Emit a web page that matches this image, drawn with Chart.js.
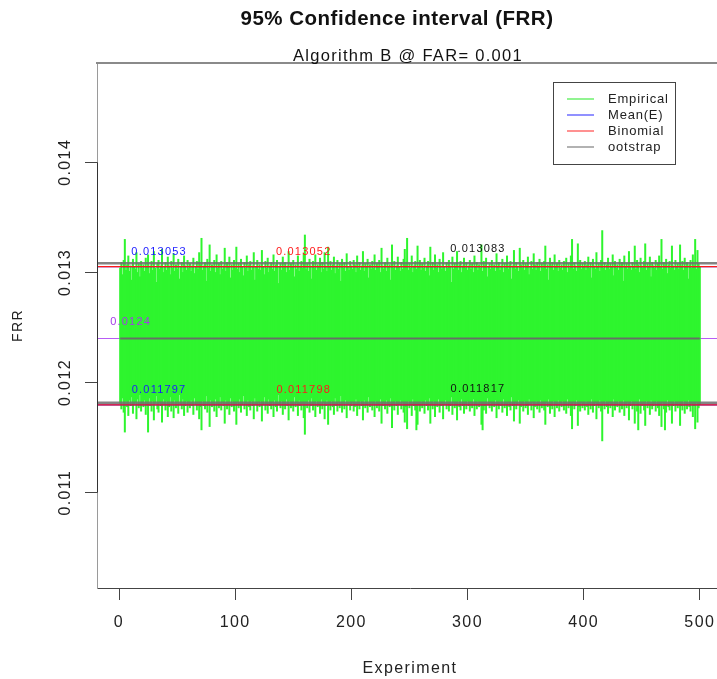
<!DOCTYPE html>
<html><head><meta charset="utf-8">
<script src="https://cdn.jsdelivr.net/npm/chart.js@4.4.1/dist/chart.umd.min.js"></script>
<style>html,body{margin:0;padding:0;background:#fff;overflow:hidden;width:717px;height:679px}canvas{display:block}</style>
</head><body>
<canvas id="c" width="740" height="679"></canvas>
<script>
// ---------------- data ----------------
const experiments = Array.from({length: 500}, (_, i) => i + 1);

const upperCI = [
.01304,.01309,.01298,.01311,.01330,.01302,.01307,.01315,.01301,.01306,.01293,.01312,.01305,.01303,.01318,.01300,.01308,.01296,.01310,.01304,
.01307,.01301,.01313,.01305,.01316,.01299,.01306,.01310,.01302,.01319,.01304,.01291,.01308,.01311,.01303,.01306,.01321,.01300,.01305,.01309,
.01302,.01314,.01306,.01298,.01310,.01304,.01317,.01301,.01307,.01303,.01312,.01294,.01305,.01309,.01300,.01315,.01306,.01302,.01311,.01304,
.01308,.01301,.01306,.01313,.01299,.01305,.01310,.01303,.01318,.01307,.01331,.01302,.01306,.01309,.01292,.01312,.01304,.01325,.01301,.01307,
.01305,.01311,.01300,.01316,.01304,.01308,.01298,.01310,.01303,.01306,.01322,.01301,.01309,.01305,.01314,.01295,.01307,.01302,.01311,.01304,
.01323,.01303,.01308,.01300,.01312,.01305,.01297,.01309,.01304,.01315,.01301,.01307,.01310,.01302,.01306,.01318,.01293,.01305,.01311,.01303,
.01307,.01302,.01320,.01305,.01298,.01310,.01304,.01313,.01300,.01306,.01309,.01303,.01316,.01301,.01307,.01311,.01290,.01305,.01308,.01302,
.01314,.01304,.01309,.01300,.01306,.01319,.01302,.01308,.01305,.01311,.01296,.01307,.01303,.01315,.01301,.01306,.01310,.01304,.01317,.01334,
.01303,.01308,.01301,.01312,.01306,.01294,.01310,.01304,.01316,.01302,.01307,.01305,.01313,.01300,.01309,.01303,.01318,.01306,.01301,.01323,
.01305,.01310,.01302,.01307,.01314,.01299,.01306,.01311,.01303,.01308,.01292,.01312,.01304,.01309,.01301,.01317,.01305,.01302,.01310,.01306,
.01303,.01311,.01307,.01300,.01315,.01304,.01309,.01302,.01306,.01319,.01301,.01308,.01305,.01312,.01295,.01307,.01303,.01310,.01304,.01316,
.01302,.01308,.01305,.01311,.01300,.01322,.01306,.01303,.01309,.01301,.01313,.01305,.01307,.01293,.01325,.01304,.01310,.01302,.01306,.01314,
.01305,.01301,.01309,.01303,.01312,.01321,.01307,.01331,.01302,.01308,.01304,.01315,.01300,.01306,.01310,.01303,.01324,.01305,.01311,.01302,
.01308,.01304,.01313,.01301,.01306,.01310,.01297,.01323,.01305,.01309,.01302,.01316,.01304,.01307,.01300,.01312,.01306,.01303,.01318,.01305,
.01301,.01309,.01304,.01311,.01306,.01291,.01314,.01303,.01308,.01305,.01319,.01302,.01307,.01310,.01300,.01306,.01313,.01304,.01309,.01302,
.01306,.01311,.01303,.01308,.01300,.01315,.01305,.01309,.01302,.01307,.01304,.01325,.01301,.01310,.01306,.01313,.01296,.01305,.01308,.01303,
.01311,.01304,.01307,.01301,.01317,.01305,.01309,.01302,.01306,.01312,.01300,.01308,.01304,.01315,.01303,.01307,.01310,.01294,.01306,.01320,
.01303,.01309,.01305,.01301,.01322,.01307,.01304,.01311,.01302,.01308,.01306,.01314,.01298,.01305,.01310,.01303,.01317,.01307,.01302,.01309,
.01305,.01312,.01301,.01308,.01304,.01310,.01324,.01303,.01307,.01293,.01313,.01306,.01309,.01302,.01316,.01305,.01308,.01301,.01311,.01304,
.01307,.01302,.01310,.01305,.01313,.01300,.01308,.01304,.01315,.01330,.01303,.01309,.01306,.01301,.01326,.01307,.01311,.01303,.01308,.01305,
.01310,.01302,.01307,.01314,.01304,.01309,.01295,.01312,.01306,.01303,.01318,.01305,.01308,.01301,.01311,.01338,.01304,.01309,.01302,.01307,
.01313,.01303,.01308,.01305,.01316,.01297,.01310,.01304,.01307,.01302,.01312,.01306,.01309,.01292,.01315,.01305,.01308,.01303,.01319,.01306,
.01302,.01309,.01305,.01324,.01303,.01311,.01307,.01300,.01313,.01306,.01304,.01310,.01326,.01302,.01308,.01305,.01314,.01296,.01309,.01306,
.01304,.01311,.01302,.01308,.01315,.01305,.01330,.01303,.01309,.01306,.01312,.01299,.01307,.01310,.01304,.01324,.01306,.01302,.01311,.01305,
.01308,.01303,.01325,.01306,.01310,.01302,.01313,.01305,.01309,.01294,.01307,.01311,.01304,.01316,.01306,.01330,.01303,.01320,.01308,.01305
];

const lowerCI = [
.01181,.01176,.01186,.01173,.01155,.01183,.01178,.01170,.01184,.01179,.01187,.01172,.01180,.01182,.01167,.01185,.01177,.01189,.01174,.01181,
.01178,.01184,.01171,.01180,.01155,.01186,.01179,.01174,.01183,.01166,.01181,.01188,.01176,.01173,.01182,.01179,.01164,.01185,.01180,.01175,
.01183,.01169,.01178,.01187,.01174,.01181,.01168,.01184,.01177,.01182,.01172,.01189,.01180,.01176,.01185,.01170,.01179,.01183,.01173,.01181,
.01177,.01184,.01179,.01171,.01186,.01180,.01175,.01182,.01167,.01178,.01157,.01183,.01179,.01176,.01188,.01173,.01181,.01160,.01184,.01178,
.01180,.01174,.01185,.01169,.01181,.01177,.01187,.01175,.01182,.01179,.01163,.01184,.01176,.01180,.01171,.01186,.01178,.01183,.01174,.01181,
.01162,.01182,.01177,.01185,.01173,.01180,.01188,.01176,.01181,.01170,.01184,.01178,.01175,.01183,.01179,.01167,.01186,.01180,.01174,.01182,
.01178,.01183,.01165,.01180,.01187,.01175,.01181,.01172,.01185,.01179,.01176,.01182,.01169,.01184,.01178,.01174,.01189,.01180,.01177,.01183,
.01171,.01181,.01176,.01185,.01179,.01166,.01183,.01177,.01180,.01174,.01187,.01178,.01182,.01170,.01184,.01179,.01175,.01181,.01168,.01153,
.01182,.01177,.01184,.01173,.01179,.01186,.01175,.01181,.01169,.01183,.01178,.01180,.01172,.01185,.01176,.01182,.01167,.01179,.01184,.01162,
.01180,.01175,.01183,.01178,.01171,.01186,.01179,.01174,.01182,.01177,.01188,.01173,.01181,.01176,.01184,.01168,.01180,.01183,.01175,.01179,
.01182,.01174,.01178,.01185,.01170,.01181,.01176,.01183,.01179,.01166,.01184,.01177,.01180,.01173,.01187,.01178,.01182,.01175,.01181,.01169,
.01183,.01177,.01180,.01174,.01185,.01163,.01179,.01182,.01176,.01184,.01172,.01180,.01178,.01186,.01159,.01181,.01175,.01183,.01179,.01171,
.01180,.01184,.01176,.01182,.01173,.01164,.01178,.01158,.01183,.01177,.01181,.01170,.01185,.01179,.01175,.01157,.01162,.01180,.01174,.01183,
.01177,.01181,.01172,.01184,.01179,.01175,.01186,.01163,.01180,.01176,.01183,.01169,.01181,.01178,.01185,.01173,.01179,.01182,.01167,.01180,
.01184,.01176,.01181,.01174,.01179,.01187,.01171,.01182,.01177,.01180,.01166,.01183,.01178,.01175,.01185,.01179,.01172,.01181,.01176,.01183,
.01179,.01174,.01182,.01177,.01185,.01170,.01180,.01176,.01183,.01178,.01181,.01162,.01157,.01175,.01179,.01172,.01186,.01180,.01177,.01182,
.01174,.01181,.01178,.01184,.01168,.01180,.01176,.01183,.01179,.01173,.01185,.01177,.01181,.01170,.01182,.01178,.01175,.01187,.01179,.01165,
.01182,.01176,.01180,.01184,.01163,.01178,.01181,.01174,.01183,.01177,.01179,.01171,.01185,.01180,.01175,.01182,.01168,.01178,.01183,.01176,
.01180,.01173,.01184,.01177,.01181,.01175,.01162,.01182,.01178,.01185,.01172,.01179,.01176,.01183,.01169,.01180,.01177,.01184,.01174,.01181,
.01178,.01183,.01175,.01180,.01172,.01185,.01177,.01181,.01170,.01158,.01182,.01176,.01179,.01184,.01161,.01178,.01174,.01182,.01177,.01180,
.01175,.01183,.01178,.01171,.01181,.01176,.01185,.01173,.01179,.01182,.01167,.01180,.01177,.01184,.01174,.01147,.01181,.01176,.01183,.01178,
.01172,.01182,.01177,.01180,.01169,.01185,.01175,.01181,.01178,.01183,.01173,.01179,.01176,.01184,.01170,.01180,.01177,.01182,.01166,.01179,
.01183,.01176,.01180,.01163,.01182,.01174,.01157,.01185,.01172,.01179,.01181,.01175,.01161,.01183,.01177,.01180,.01171,.01184,.01176,.01179,
.01181,.01174,.01183,.01177,.01170,.01180,.01160,.01182,.01176,.01157,.01173,.01184,.01178,.01175,.01181,.01163,.01179,.01183,.01174,.01180,
.01177,.01182,.01161,.01179,.01175,.01183,.01172,.01180,.01176,.01184,.01178,.01174,.01181,.01169,.01179,.01158,.01182,.01164,.01177,.01180
];

const meanEmpirical = 0.0124;
const empiricalBounds = [0.013053, 0.011797];   // Mean(E)
const binomialBounds  = [0.013052, 0.011798];   // Binomial
const bootstrapBounds = [0.013083, 0.011817];   // Bootstrap
const xTickValues = [0, 100, 200, 300, 400, 500];
const yTickValues = [0.011, 0.012, 0.013, 0.014];
const legendLabels = ['Empirical', 'Mean(E)', 'Binomial', 'ootstrap'];
const titleText = '95% Confidence interval (FRR)';
const subtitleText = 'Algorithm B @ FAR= 0.001';

// ---------------- styling / layout ----------------
const X_MIN = -18.96, X_MAX = 519.96;
const Y_MIN = 0.010134, Y_MAX = 0.014902;
const FONT = '"Liberation Sans", Arial, Helvetica, sans-serif';
const C_GREEN = '#2ef52e', C_BLUE = '#1a1aff', C_RED = '#ff1a1a', C_GRAY = 'rgba(110,110,110,0.85)', C_PURPLE = '#b85cf5';

function hline(y, color, width, order, x0 = X_MIN, x1 = X_MAX) {
  return { type: 'line', data: [{x: x0, y}, {x: x1, y}], borderColor: color, borderWidth: width,
           pointRadius: 0, fill: false, order, clip: 0 };
}

const datasets = [
  hline(meanEmpirical, C_PURPLE, 1.2, 20),
  { type: 'bar', data: experiments.map((e, i) => ({x: e, y: [lowerCI[i], upperCI[i]]})),
    backgroundColor: C_GREEN, borderWidth: 0, barThickness: 1.35, grouped: false, order: 15 },
  hline(meanEmpirical, 'rgba(105,105,105,0.95)', 2, 12, experiments[0], experiments[experiments.length - 1]),
  hline(empiricalBounds[0], C_BLUE, 1.2, 10), hline(empiricalBounds[1], C_BLUE, 1.2, 10),
  hline(bootstrapBounds[0], C_GRAY, 2.6, 9), hline(bootstrapBounds[1], C_GRAY, 2.6, 9),
  hline(binomialBounds[0], C_RED, 1.3, 8), hline(binomialBounds[1], C_RED, 1.3, 8)
];

const labelSpecs = [
  {v: empiricalBounds[0], x: 34.5, dy: -15, color: C_BLUE},
  {v: binomialBounds[0],  x: 159,  dy: -15, color: C_RED},
  {v: bootstrapBounds[0], x: 309,  dy: -14, color: '#111'},
  {v: meanEmpirical,      x: 10,   dy: -17, color: '#a43be8'},
  {v: empiricalBounds[1], x: 34.5, dy: -15, color: C_BLUE},
  {v: binomialBounds[1],  x: 159,  dy: -15, color: C_RED},
  {v: bootstrapBounds[1], x: 309,  dy: -14, color: '#111'}
];

const decor = {
  id: 'decor',
  beforeDraw(chart) {
    chart.ctx.letterSpacing = '1.4px';
  },
  afterDatasetsDraw(chart) {
    const ctx = chart.ctx, xs = chart.scales.x, ys = chart.scales.y;
    ctx.save();
    ctx.font = '11px ' + FONT;
    ctx.letterSpacing = '1.2px';
    ctx.textAlign = 'center';
    ctx.textBaseline = 'middle';
    labelSpecs.forEach(s => {
      ctx.fillStyle = s.color;
      ctx.fillText(String(s.v), xs.getPixelForValue(s.x), ys.getPixelForValue(s.v) + s.dy);
    });
    ctx.restore();
  },
  afterDraw(chart) {
    const ctx = chart.ctx, a = chart.chartArea, ys = chart.scales.y;
    ctx.save();
    // frame top
    ctx.strokeStyle = '#8a8a8a';
    ctx.lineWidth = 2;
    ctx.beginPath(); ctx.moveTo(a.left - 1, a.top); ctx.lineTo(a.right, a.top); ctx.stroke();
    // darker axis segment on the left between first and last tick
    ctx.strokeStyle = '#333';
    ctx.lineWidth = 1;
    ctx.beginPath();
    ctx.moveTo(a.left + 0.5, ys.getPixelForValue(yTickValues[0]));
    ctx.lineTo(a.left + 0.5, ys.getPixelForValue(yTickValues[yTickValues.length - 1]));
    ctx.stroke();
    // titles
    ctx.fillStyle = '#111';
    ctx.textAlign = 'center';
    ctx.textBaseline = 'middle';
    ctx.font = 'bold 20.5px ' + FONT;
    ctx.letterSpacing = '0.5px';
    ctx.fillText(titleText, 397, 19);
    ctx.font = '16.5px ' + FONT;
    ctx.letterSpacing = '1.3px';
    ctx.fillText(subtitleText, 408, 56);
    // legend
    const bx = 553.5, by = 82.5, bw = 122, bh = 82;
    ctx.fillStyle = '#fff';
    ctx.fillRect(bx, by, bw, bh);
    ctx.strokeStyle = '#444';
    ctx.lineWidth = 1;
    ctx.strokeRect(bx, by, bw, bh);
    const cols = ['#55ee55', '#5555ff', '#ff5555', '#888888'];
    const rows = [99, 115, 131, 147];
    ctx.font = '13px ' + FONT;
    ctx.letterSpacing = '0.8px';
    ctx.textAlign = 'left';
    legendLabels.forEach((t, i) => {
      ctx.strokeStyle = cols[i];
      ctx.lineWidth = 1.3;
      ctx.beginPath(); ctx.moveTo(567, rows[i]); ctx.lineTo(594, rows[i]); ctx.stroke();
      ctx.fillStyle = '#222';
      ctx.fillText(t, 608, rows[i]);
    });
    ctx.restore();
  }
};

new Chart(document.getElementById('c'), {
  type: 'bar',
  data: { datasets },
  plugins: [decor],
  options: {
    responsive: false,
    animation: false,
    devicePixelRatio: 1,
    layout: { padding: { left: 0, right: 17, top: 63, bottom: 0 } },
    plugins: { legend: { display: false }, tooltip: { enabled: false }, title: { display: false } },
    scales: {
      x: {
        type: 'linear', min: X_MIN, max: X_MAX, offset: false,
        afterBuildTicks: s => { s.ticks = xTickValues.map(v => ({value: v})); },
        afterFit: s => { s.height = 91; },
        ticks: { font: { family: FONT, size: 16 }, color: '#222', padding: 13, maxRotation: 0, autoSkip: false },
        grid: { offset: false, drawOnChartArea: false, drawTicks: true, tickLength: 12, color: '#444', lineWidth: 1 },
        border: { display: true, color: '#444', width: 1 },
        title: { display: true, text: 'Experiment', font: { family: FONT, size: 16 }, color: '#222', padding: { top: 1, bottom: 1 } }
      },
      y: {
        type: 'linear', min: Y_MIN, max: Y_MAX,
        afterBuildTicks: s => { s.ticks = yTickValues.map(v => ({value: v})); },
        afterFit: s => { s.width = 97; },
        ticks: { font: { family: FONT, size: 16 }, color: '#222', padding: -1, minRotation: 90, maxRotation: 90,
                 crossAlign: 'center', autoSkip: false, callback: v => String(v) },
        grid: { offset: false, drawOnChartArea: false, drawTicks: true, tickLength: 12, color: '#444', lineWidth: 1 },
        border: { display: true, color: '#9a9a9a', width: 1 },
        title: { display: true, text: 'FRR', font: { family: FONT, size: 14 }, color: '#222', padding: { top: 10, bottom: 10 } }
      }
    }
  }
});
</script>
</body></html>
